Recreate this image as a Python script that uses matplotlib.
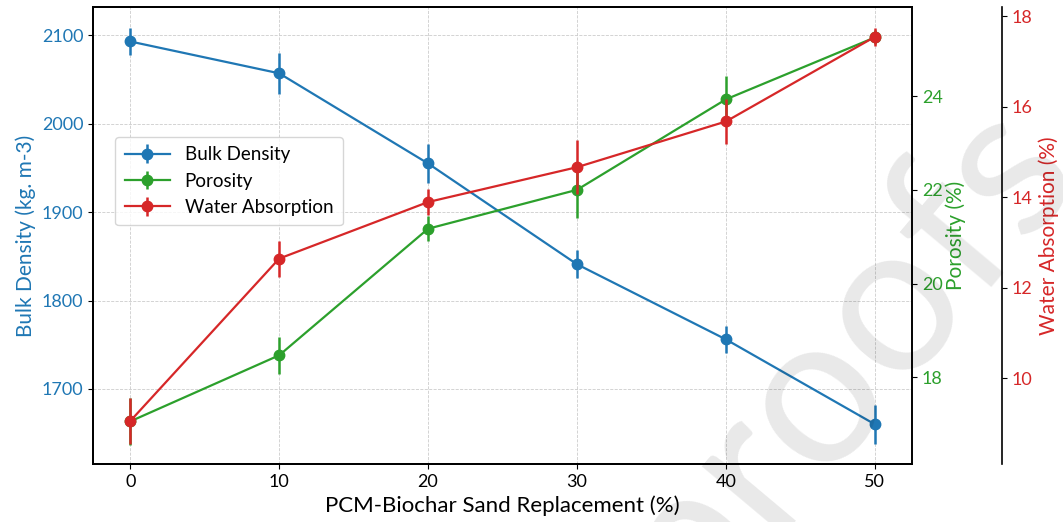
import numpy as np
import matplotlib
matplotlib.use("Agg")
import matplotlib.pyplot as plt

plt.rcParams['font.family'] = ['Lato', 'DejaVu Sans']

# sand replacement levels (%)
replacement = [0, 10, 20, 30, 40, 50]

# bulk density (kg/m3) with std
density = [2093, 2057, 1955, 1841, 1756, 1660]
density_err = [15, 23, 22, 16, 15, 22]

# porosity (%) with std
porosity = [17.06, 18.47, 21.17, 22.0, 23.93, 25.25]
porosity_err = [0.5, 0.4, 0.27, 0.6, 0.5, 0.15]

# water absorption (%) with std
absorption = [9.05, 12.64, 13.89, 14.66, 15.67, 17.54]
absorption_err = [0.5, 0.4, 0.29, 0.6, 0.5, 0.2]

c_blue, c_green, c_red = 'tab:blue', 'tab:green', 'tab:red'

fig = plt.figure(figsize=(10.63, 5.22), dpi=100)
ax1 = fig.add_axes([0.0875, 0.111, 0.7705, 0.8756])

ax1.grid(True, color='#cccccc', linestyle='--', linewidth=0.6)
ax1.set_axisbelow(True)

l1 = ax1.errorbar(replacement, density, yerr=density_err, color=c_blue,
                  marker='o', markersize=7.5, linewidth=1.6, elinewidth=1.8,
                  label='Bulk Density')
ax1.set_ylim(1615, 2132)
ax1.set_yticks([1700, 1800, 1900, 2000, 2100])
ax1.set_xlim(-2.5, 52.5)
ax1.set_xlabel('PCM-Biochar Sand Replacement (%)', fontsize=16)
ax1.set_ylabel('Bulk Density (kg. m-3)', color=c_blue, fontsize=15)
ax1.tick_params(axis='y', labelcolor=c_blue, labelsize=13)
ax1.tick_params(axis='x', labelsize=13)

ax2 = ax1.twinx()
l2 = ax2.errorbar(replacement, porosity, yerr=porosity_err, color=c_green,
                  marker='o', markersize=7.5, linewidth=1.6, elinewidth=1.8,
                  label='Porosity')
ax2.set_ylim(16.15, 25.9)
ax2.set_yticks([18, 20, 22, 24])
ax2.set_ylabel('Porosity (%)', color=c_green, fontsize=15, labelpad=2)
ax2.tick_params(axis='y', labelcolor=c_green, labelsize=13)

ax3 = ax1.twinx()
ax3.spines['right'].set_position(('axes', 1.11))
l3 = ax3.errorbar(replacement, absorption, yerr=absorption_err, color=c_red,
                  marker='o', markersize=7.5, linewidth=1.6, elinewidth=1.8,
                  label='Water Absorption')
ax3.set_ylim(8.1, 18.2)
ax3.set_yticks([10, 12, 14, 16, 18])
ax3.set_ylabel('Water Absorption (%)', color=c_red, fontsize=15)
ax3.tick_params(axis='y', labelcolor=c_red, labelsize=13)

for ax in (ax1, ax2, ax3):
    for sp in ax.spines.values():
        sp.set_linewidth(1.2)

ax3.legend(handles=[l1, l2, l3], loc='upper left',
           bbox_to_anchor=(0.027, 0.716), borderaxespad=0, fontsize=13.5,
           handlelength=2.4, borderpad=0.5)

# faint diagonal watermark
fig.text(1.02, 0.66, 'Journal Pre-proofs', fontsize=152, color='black',
         alpha=0.09, rotation=50, rotation_mode='anchor', ha='right',
         va='baseline', zorder=10)

fig.savefig('out.png', dpi=100)
